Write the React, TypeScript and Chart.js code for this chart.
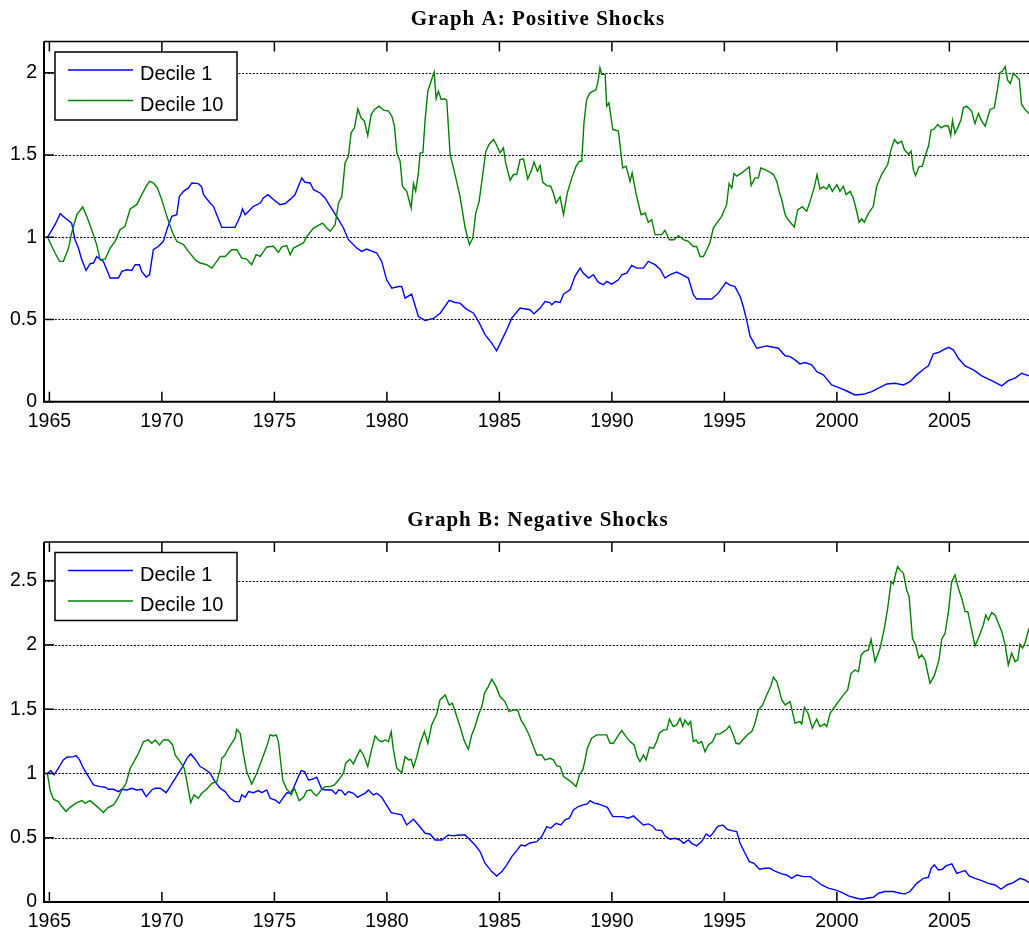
import React, { useEffect, useRef } from 'react';
import { Chart, registerables } from 'chart.js';

Chart.register(...registerables);

// ---------- data ----------
const seriesLabels = ['Decile 1', 'Decile 10'];
const seriesColors = ['#0000ff', '#008000'];
const titleA = 'Graph A: Positive Shocks';
const titleB = 'Graph B: Negative Shocks';
const xTickYears = [1965, 1970, 1975, 1980, 1985, 1990, 1995, 2000, 2005];
const yTicksA = [0, 0.5, 1, 1.5, 2];
const yTicksB = [0, 0.5, 1, 1.5, 2, 2.5];
const yTickLabelsA = ['0', '0.5', '1', '1.5', '2'];
const yTickLabelsB = ['0', '0.5', '1', '1.5', '2', '2.5'];

// Graph A, Decile 1
const aD1Years = [1964.92,1965.25,1965.48,1965.7,1965.99,1966.14,1966.29,1966.44,1966.63,1966.81,1966.96,1967.1,1967.25,1967.4,1967.55,1967.7,1968.07,1968.22,1968.44,1968.66,1968.81,1969.0,1969.1,1969.3,1969.45,1969.62,1969.85,1970.07,1970.22,1970.44,1970.66,1970.78,1970.96,1971.18,1971.33,1971.62,1971.77,1971.85,1972.14,1972.29,1972.66,1973.25,1973.48,1973.58,1973.7,1974.07,1974.37,1974.51,1974.71,1974.96,1975.25,1975.48,1975.7,1975.92,1976.22,1976.36,1976.59,1976.74,1977.03,1977.25,1977.48,1977.62,1977.85,1978.07,1978.29,1978.66,1978.88,1979.1,1979.55,1979.77,1979.99,1980.22,1980.51,1980.66,1980.81,1981.1,1981.4,1981.7,1982.07,1982.37,1982.77,1983.03,1983.25,1983.48,1983.85,1984.07,1984.37,1984.66,1984.88,1985.11,1985.33,1985.55,1985.92,1986.36,1986.54,1986.81,1987.03,1987.25,1987.33,1987.48,1987.7,1987.85,1988.14,1988.36,1988.59,1988.73,1988.96,1989.18,1989.4,1989.62,1989.77,1989.99,1990.29,1990.44,1990.66,1990.88,1991.1,1991.4,1991.62,1991.92,1992.14,1992.36,1992.59,1992.88,1993.11,1993.4,1993.62,1993.77,1994.07,1994.44,1994.73,1995.07,1995.25,1995.47,1995.7,1995.84,1995.99,1996.14,1996.44,1996.88,1997.18,1997.4,1997.7,1997.92,1998.14,1998.36,1998.59,1998.88,1999.11,1999.4,1999.77,2000.14,2000.44,2000.81,2001.18,2001.55,2001.85,2002.22,2002.59,2002.96,2003.25,2003.55,2003.85,2004.07,2004.29,2004.51,2004.73,2004.96,2005.18,2005.4,2005.7,2006.07,2006.44,2006.88,2007.33,2007.62,2007.92,2008.22,2008.54];
const aD1Values = [1.0,1.076,1.143,1.117,1.086,0.985,0.934,0.863,0.798,0.839,0.843,0.883,0.867,0.853,0.802,0.752,0.752,0.792,0.802,0.798,0.833,0.833,0.792,0.758,0.772,0.924,0.945,0.975,1.046,1.127,1.137,1.249,1.279,1.3,1.33,1.326,1.306,1.259,1.208,1.188,1.06,1.06,1.127,1.172,1.137,1.188,1.208,1.239,1.259,1.229,1.198,1.205,1.23,1.259,1.361,1.334,1.33,1.289,1.269,1.239,1.188,1.158,1.107,1.056,0.985,0.934,0.914,0.928,0.904,0.853,0.741,0.69,0.7,0.7,0.63,0.654,0.518,0.494,0.506,0.538,0.616,0.603,0.599,0.569,0.538,0.488,0.406,0.356,0.309,0.376,0.437,0.508,0.569,0.559,0.534,0.569,0.609,0.603,0.589,0.609,0.603,0.654,0.68,0.762,0.812,0.782,0.752,0.772,0.725,0.711,0.731,0.715,0.741,0.772,0.782,0.829,0.812,0.812,0.853,0.833,0.806,0.752,0.772,0.788,0.772,0.752,0.65,0.624,0.624,0.624,0.66,0.725,0.709,0.7,0.64,0.579,0.498,0.4,0.325,0.339,0.331,0.325,0.279,0.274,0.254,0.23,0.238,0.224,0.183,0.163,0.102,0.082,0.065,0.041,0.045,0.061,0.082,0.108,0.112,0.102,0.122,0.163,0.197,0.218,0.291,0.299,0.315,0.331,0.315,0.264,0.218,0.193,0.157,0.128,0.096,0.128,0.143,0.173,0.157];

// Graph A, Decile 10
const aD10Years = [1964.92,1965.11,1965.25,1965.45,1965.62,1965.85,1965.99,1966.22,1966.48,1966.66,1966.88,1967.1,1967.25,1967.48,1967.7,1967.92,1968.14,1968.36,1968.59,1968.88,1969.11,1969.3,1969.45,1969.62,1969.8,1969.99,1970.22,1970.48,1970.66,1970.96,1971.18,1971.48,1971.7,1971.99,1972.22,1972.44,1972.59,1972.81,1973.1,1973.33,1973.55,1973.77,1973.99,1974.19,1974.37,1974.66,1974.96,1975.18,1975.33,1975.55,1975.7,1975.85,1976.14,1976.29,1976.44,1976.74,1977.14,1977.33,1977.48,1977.7,1977.85,1978.0,1978.14,1978.29,1978.41,1978.56,1978.71,1978.85,1979.0,1979.15,1979.3,1979.45,1979.65,1979.85,1980.07,1980.22,1980.34,1980.44,1980.59,1980.69,1980.88,1981.08,1981.18,1981.28,1981.4,1981.48,1981.6,1981.7,1981.82,1981.99,1982.1,1982.19,1982.29,1982.41,1982.56,1982.66,1982.81,1983.03,1983.25,1983.48,1983.67,1983.82,1983.95,1984.1,1984.26,1984.4,1984.54,1984.74,1984.84,1985.03,1985.18,1985.28,1985.48,1985.62,1985.77,1985.92,1986.07,1986.26,1986.44,1986.54,1986.69,1986.81,1986.93,1987.11,1987.28,1987.4,1987.52,1987.7,1987.85,1988.02,1988.22,1988.41,1988.56,1988.66,1988.76,1988.88,1989.03,1989.3,1989.4,1989.47,1989.55,1989.7,1989.77,1989.87,1990.04,1990.29,1990.48,1990.63,1990.81,1990.9,1991.1,1991.3,1991.48,1991.62,1991.77,1991.92,1992.22,1992.36,1992.56,1992.76,1992.96,1993.18,1993.4,1993.62,1993.77,1993.92,1994.07,1994.22,1994.36,1994.51,1994.66,1994.88,1995.1,1995.21,1995.33,1995.43,1995.55,1995.77,1995.99,1996.1,1996.19,1996.36,1996.51,1996.62,1996.81,1996.96,1997.18,1997.33,1997.45,1997.55,1997.7,1997.85,1998.11,1998.26,1998.47,1998.66,1998.81,1999.0,1999.12,1999.25,1999.4,1999.55,1999.65,1999.8,2000.0,2000.14,2000.29,2000.41,2000.59,2000.73,2000.88,2000.99,2001.1,2001.22,2001.4,2001.62,2001.77,2001.99,2002.26,2002.41,2002.56,2002.7,2002.88,2003.0,2003.18,2003.3,2003.4,2003.5,2003.65,2003.8,2003.92,2004.07,2004.19,2004.33,2004.48,2004.63,2004.81,2004.96,2005.06,2005.14,2005.25,2005.37,2005.52,2005.62,2005.77,2005.99,2006.14,2006.29,2006.44,2006.59,2006.81,2007.0,2007.15,2007.25,2007.36,2007.48,2007.59,2007.71,2007.85,2008.0,2008.11,2008.21,2008.36,2008.54];
const aD10Values = [1.0,0.944,0.904,0.853,0.853,0.934,1.026,1.137,1.184,1.127,1.046,0.955,0.863,0.867,0.934,0.975,1.046,1.066,1.172,1.198,1.259,1.31,1.34,1.33,1.3,1.229,1.127,1.026,0.975,0.955,0.914,0.863,0.843,0.833,0.812,0.853,0.883,0.883,0.924,0.924,0.873,0.867,0.833,0.894,0.883,0.941,0.945,0.908,0.941,0.949,0.894,0.934,0.955,0.965,1.005,1.056,1.086,1.056,1.036,1.076,1.208,1.249,1.452,1.492,1.635,1.665,1.781,1.726,1.706,1.618,1.746,1.777,1.797,1.773,1.767,1.736,1.675,1.513,1.462,1.31,1.279,1.178,1.326,1.279,1.391,1.513,1.513,1.716,1.888,1.959,2.004,1.842,1.888,1.838,1.842,1.834,1.503,1.381,1.249,1.056,0.955,0.995,1.147,1.218,1.381,1.523,1.564,1.594,1.57,1.513,1.543,1.452,1.346,1.381,1.381,1.472,1.476,1.354,1.411,1.458,1.401,1.436,1.334,1.314,1.31,1.269,1.208,1.245,1.137,1.269,1.361,1.432,1.462,1.462,1.695,1.838,1.878,1.898,1.959,2.03,1.99,1.99,1.797,1.817,1.655,1.645,1.421,1.432,1.34,1.391,1.249,1.137,1.147,1.091,1.107,1.016,1.016,1.042,0.985,0.985,1.01,0.985,0.975,0.944,0.944,0.883,0.883,0.924,0.968,1.056,1.086,1.127,1.198,1.326,1.299,1.387,1.371,1.391,1.415,1.428,1.314,1.361,1.361,1.421,1.411,1.401,1.381,1.34,1.27,1.229,1.137,1.103,1.062,1.168,1.184,1.158,1.218,1.306,1.381,1.293,1.306,1.293,1.32,1.279,1.32,1.279,1.31,1.259,1.279,1.239,1.158,1.091,1.111,1.091,1.143,1.188,1.31,1.381,1.442,1.533,1.594,1.57,1.584,1.533,1.503,1.523,1.411,1.375,1.428,1.432,1.492,1.553,1.651,1.659,1.685,1.665,1.679,1.675,1.618,1.71,1.63,1.665,1.716,1.787,1.797,1.767,1.691,1.753,1.706,1.675,1.777,1.787,1.909,2.0,2.01,2.037,1.955,1.935,1.996,1.976,1.959,1.807,1.777,1.752];

// Graph B, Decile 1
const bD1Years = [1964.91,1965.06,1965.21,1965.4,1965.62,1965.77,1966.07,1966.19,1966.34,1966.51,1966.74,1966.96,1967.25,1967.48,1967.62,1967.85,1968.07,1968.22,1968.44,1968.66,1968.88,1969.11,1969.3,1969.55,1969.7,1969.92,1970.19,1970.44,1970.66,1970.88,1971.11,1971.28,1971.48,1971.7,1971.92,1972.14,1972.36,1972.59,1972.81,1973.03,1973.25,1973.45,1973.55,1973.7,1973.85,1974.07,1974.29,1974.44,1974.66,1974.81,1975.03,1975.22,1975.4,1975.55,1975.7,1975.85,1976.0,1976.19,1976.34,1976.51,1976.69,1976.88,1977.11,1977.33,1977.55,1977.73,1977.85,1977.99,1978.14,1978.29,1978.51,1978.7,1978.88,1979.03,1979.18,1979.4,1979.55,1979.77,1979.92,1980.19,1980.44,1980.66,1980.88,1981.18,1981.4,1981.7,1981.92,1982.14,1982.44,1982.73,1982.96,1983.18,1983.48,1983.7,1983.92,1984.14,1984.36,1984.66,1984.88,1985.11,1985.33,1985.55,1985.77,1985.96,1986.14,1986.36,1986.66,1986.88,1987.11,1987.28,1987.52,1987.73,1987.92,1988.11,1988.29,1988.51,1988.73,1988.91,1989.03,1989.21,1989.4,1989.62,1989.8,1990.04,1990.25,1990.48,1990.73,1990.96,1991.18,1991.4,1991.62,1991.81,1991.96,1992.22,1992.36,1992.59,1992.81,1993.03,1993.18,1993.4,1993.55,1993.77,1993.99,1994.19,1994.36,1994.51,1994.69,1994.93,1995.13,1995.33,1995.55,1995.7,1995.92,1996.11,1996.32,1996.56,1996.81,1997.03,1997.25,1997.55,1997.77,1997.99,1998.22,1998.51,1998.81,1999.03,1999.33,1999.62,1999.92,2000.22,2000.51,2000.88,2001.1,2001.33,2001.62,2001.85,2002.14,2002.51,2002.81,2003.03,2003.25,2003.55,2003.85,2004.07,2004.19,2004.33,2004.51,2004.69,2004.84,2005.11,2005.33,2005.55,2005.7,2005.88,2006.14,2006.44,2006.73,2007.03,2007.3,2007.55,2007.84,2008.14,2008.36,2008.54];
const bD1Values = [1.0,1.023,0.989,1.041,1.106,1.126,1.131,1.139,1.106,1.041,0.976,0.911,0.898,0.893,0.877,0.877,0.859,0.877,0.872,0.885,0.872,0.877,0.82,0.872,0.885,0.885,0.851,0.919,0.981,1.041,1.118,1.152,1.111,1.054,1.033,1.002,0.937,0.885,0.859,0.807,0.781,0.781,0.833,0.815,0.859,0.851,0.867,0.851,0.872,0.807,0.794,0.768,0.815,0.85,0.846,0.885,0.95,1.023,1.015,0.95,0.955,0.971,0.877,0.872,0.872,0.841,0.872,0.867,0.833,0.859,0.846,0.815,0.833,0.846,0.872,0.833,0.846,0.815,0.774,0.696,0.686,0.678,0.6,0.644,0.6,0.535,0.53,0.483,0.483,0.522,0.515,0.522,0.522,0.483,0.444,0.393,0.302,0.237,0.203,0.237,0.289,0.354,0.4,0.444,0.437,0.46,0.47,0.509,0.587,0.574,0.613,0.6,0.639,0.652,0.717,0.743,0.756,0.763,0.789,0.769,0.763,0.748,0.737,0.665,0.665,0.665,0.652,0.67,0.634,0.6,0.608,0.592,0.561,0.556,0.514,0.489,0.496,0.483,0.457,0.483,0.457,0.437,0.47,0.53,0.509,0.54,0.587,0.6,0.566,0.556,0.548,0.457,0.38,0.315,0.302,0.255,0.263,0.263,0.24,0.219,0.211,0.185,0.211,0.198,0.198,0.172,0.133,0.108,0.095,0.076,0.048,0.03,0.022,0.03,0.038,0.069,0.082,0.082,0.069,0.064,0.082,0.146,0.185,0.193,0.263,0.289,0.25,0.255,0.281,0.297,0.224,0.237,0.245,0.203,0.185,0.167,0.146,0.133,0.1,0.133,0.151,0.185,0.172,0.151];

// Graph B, Decile 10
const bD10Years = [1964.91,1965.03,1965.18,1965.4,1965.55,1965.74,1965.92,1966.07,1966.22,1966.44,1966.59,1966.81,1967.03,1967.25,1967.4,1967.62,1967.85,1968.02,1968.22,1968.41,1968.59,1968.76,1968.96,1969.18,1969.4,1969.55,1969.7,1969.89,1970.07,1970.29,1970.48,1970.59,1970.81,1970.99,1971.11,1971.28,1971.43,1971.62,1971.77,1971.99,1972.22,1972.44,1972.59,1972.66,1972.81,1972.96,1973.1,1973.25,1973.33,1973.48,1973.62,1973.77,1973.99,1974.22,1974.44,1974.66,1974.81,1974.96,1975.08,1975.18,1975.37,1975.55,1975.7,1975.74,1975.89,1976.1,1976.29,1976.44,1976.63,1976.74,1976.88,1977.08,1977.25,1977.48,1977.67,1977.88,1978.07,1978.17,1978.36,1978.51,1978.66,1978.81,1978.96,1979.15,1979.3,1979.48,1979.62,1979.77,1979.92,1980.07,1980.19,1980.29,1980.44,1980.66,1980.81,1980.96,1981.08,1981.18,1981.33,1981.48,1981.67,1981.82,1981.99,1982.22,1982.36,1982.59,1982.77,1982.91,1983.06,1983.25,1983.45,1983.62,1983.77,1983.92,1984.07,1984.22,1984.34,1984.51,1984.66,1984.84,1985.03,1985.25,1985.43,1985.62,1985.81,1985.96,1986.14,1986.32,1986.51,1986.66,1986.88,1987.03,1987.25,1987.4,1987.55,1987.7,1987.85,1988.07,1988.26,1988.41,1988.56,1988.71,1988.81,1988.91,1989.1,1989.33,1989.55,1989.77,1989.92,1990.07,1990.25,1990.44,1990.63,1990.81,1990.99,1991.13,1991.25,1991.4,1991.52,1991.67,1991.85,1991.99,1992.11,1992.29,1992.44,1992.56,1992.73,1992.88,1993.03,1993.15,1993.25,1993.4,1993.5,1993.62,1993.74,1993.84,1993.99,1994.14,1994.29,1994.48,1994.63,1994.81,1994.96,1995.11,1995.23,1995.4,1995.52,1995.67,1995.84,1996.07,1996.22,1996.36,1996.51,1996.7,1996.88,1997.06,1997.18,1997.33,1997.45,1997.55,1997.7,1997.92,1998.14,1998.36,1998.44,1998.56,1998.73,1998.91,1999.1,1999.25,1999.45,1999.55,1999.7,1999.89,2000.07,2000.29,2000.48,2000.63,2000.81,2000.96,2001.08,2001.22,2001.4,2001.52,2001.7,2001.92,2002.11,2002.26,2002.41,2002.51,2002.62,2002.7,2002.81,2002.96,2003.1,2003.21,2003.36,2003.5,2003.65,2003.77,2003.92,2004.14,2004.33,2004.54,2004.66,2004.81,2004.96,2005.1,2005.25,2005.4,2005.55,2005.7,2005.82,2005.96,2006.14,2006.32,2006.51,2006.62,2006.73,2006.88,2007.03,2007.15,2007.33,2007.48,2007.62,2007.77,2007.92,2008.04,2008.14,2008.25,2008.36,2008.54];
const bD10Values = [1.0,0.872,0.8,0.781,0.743,0.704,0.737,0.756,0.774,0.789,0.769,0.789,0.756,0.722,0.696,0.737,0.756,0.8,0.872,0.924,1.041,1.093,1.157,1.248,1.261,1.235,1.261,1.222,1.261,1.261,1.222,1.144,1.093,1.041,0.937,0.774,0.833,0.807,0.846,0.877,0.924,0.937,1.028,1.118,1.144,1.196,1.235,1.274,1.344,1.313,1.157,1.015,0.919,1.002,1.106,1.209,1.3,1.292,1.3,1.248,0.95,0.877,0.85,0.833,0.885,0.789,0.815,0.867,0.872,0.846,0.826,0.872,0.898,0.898,0.911,0.955,1.002,1.08,1.111,1.074,1.131,1.183,1.144,1.054,1.17,1.292,1.261,1.248,1.261,1.248,1.326,1.183,1.041,1.007,1.131,1.106,1.111,1.048,1.131,1.235,1.326,1.235,1.378,1.463,1.572,1.611,1.533,1.546,1.468,1.365,1.248,1.188,1.3,1.365,1.455,1.52,1.624,1.676,1.733,1.681,1.598,1.559,1.481,1.494,1.494,1.416,1.365,1.3,1.209,1.144,1.144,1.106,1.118,1.106,1.059,1.054,0.976,0.95,0.924,0.898,0.989,1.028,1.106,1.196,1.274,1.3,1.3,1.3,1.235,1.235,1.287,1.334,1.287,1.248,1.222,1.131,1.093,1.144,1.106,1.204,1.196,1.248,1.313,1.339,1.339,1.422,1.365,1.378,1.429,1.365,1.416,1.378,1.404,1.248,1.261,1.235,1.248,1.17,1.222,1.248,1.308,1.308,1.326,1.344,1.37,1.3,1.235,1.23,1.266,1.308,1.326,1.391,1.494,1.533,1.611,1.676,1.748,1.715,1.64,1.572,1.533,1.559,1.391,1.404,1.385,1.515,1.463,1.352,1.422,1.365,1.385,1.365,1.468,1.515,1.559,1.611,1.65,1.779,1.805,1.792,1.922,1.948,1.961,2.044,1.87,1.974,2.129,2.285,2.492,2.474,2.557,2.609,2.583,2.557,2.427,2.376,2.052,2.0,1.896,1.922,1.883,1.702,1.759,1.883,2.044,2.09,2.259,2.492,2.544,2.44,2.363,2.259,2.259,2.142,1.992,2.065,2.155,2.233,2.194,2.251,2.233,2.181,2.103,2.0,1.844,1.935,1.87,1.883,2.007,1.974,2.013,2.129];

// ---------- layout ----------
const W = 1029;
const X_MIN = 1964.76;
const X_MAX = 2008.54;
const Y_AXIS_W = 44;
const X_AXIS_H = 40;
const TICK_FONT = { family: 'Liberation Sans', size: 19.5 };

const toXY = (xs: number[], ys: number[]) => xs.map((x, i) => ({ x, y: ys[i] }));

type PanelProps = {
  top: number;
  height: number;
  plotTop: number;
  plotBottom: number;
  titleBaseline: number;
  title: string;
  yMax: number;
  yTicks: number[];
  yTickLabels: string[];
  d1Years: number[];
  d1Values: number[];
  d10Years: number[];
  d10Values: number[];
};

const matlabPlugin = {
  id: 'matlabLook',
  beforeDatasetsDraw(chart: any, _args: any, opts: any) {
    const { ctx, chartArea } = chart;
    const y = chart.scales.y;
    ctx.save();
    ctx.strokeStyle = '#000';
    ctx.lineWidth = 1.2;
    ctx.setLineDash([2, 1.6]);
    (opts.yTicks as number[]).forEach((v) => {
      if (v === 0) return;
      const py = Math.round(y.getPixelForValue(v)) + 0.5;
      ctx.beginPath();
      ctx.moveTo(chartArea.left, py);
      ctx.lineTo(chartArea.right, py);
      ctx.stroke();
    });
    ctx.restore();
  },
  afterDatasetsDraw(chart: any, _args: any, opts: any) {
    const { ctx, chartArea } = chart;
    const x = chart.scales.x;
    const y = chart.scales.y;
    const { left, right, top, bottom } = chartArea;
    ctx.save();
    ctx.setLineDash([]);
    ctx.strokeStyle = '#000';
    // axes
    ctx.lineWidth = 2;
    ctx.beginPath();
    ctx.moveTo(left, top);
    ctx.lineTo(left, bottom);
    ctx.lineTo(right, bottom);
    ctx.stroke();
    ctx.lineWidth = 1.5;
    ctx.beginPath();
    ctx.moveTo(left, top);
    ctx.lineTo(right, top);
    ctx.stroke();
    // inward x ticks, bottom and top
    ctx.lineWidth = 1.5;
    (opts.xTicks as number[]).forEach((v) => {
      const px = x.getPixelForValue(v);
      ctx.beginPath();
      ctx.moveTo(px, bottom);
      ctx.lineTo(px, bottom - 10);
      ctx.moveTo(px, top);
      ctx.lineTo(px, top + 10);
      ctx.stroke();
    });
    // inward y ticks
    (opts.yTicks as number[]).forEach((v) => {
      const py = y.getPixelForValue(v);
      ctx.beginPath();
      ctx.moveTo(left, py);
      ctx.lineTo(left + 10, py);
      ctx.stroke();
    });
    // legend
    const bx = 55, by = top + 10.5, bw = 182, bh = 68;
    ctx.fillStyle = '#fff';
    ctx.fillRect(bx, by, bw, bh);
    ctx.lineWidth = 1.5;
    ctx.strokeRect(bx, by, bw, bh);
    const rows = [by + 18, by + 48.5];
    chart.data.datasets.forEach((ds: any, i: number) => {
      const ry = rows[i];
      ctx.strokeStyle = ds.borderColor;
      ctx.lineWidth = 1.3;
      ctx.beginPath();
      ctx.moveTo(68, ry);
      ctx.lineTo(133, ry);
      ctx.stroke();
      ctx.fillStyle = '#000';
      ctx.font = '20px "Liberation Sans"';
      ctx.textAlign = 'left';
      ctx.textBaseline = 'alphabetic';
      ctx.fillText(ds.label, 140, ry + 10);
    });
    // title
    ctx.fillStyle = '#000';
    ctx.font = 'bold 21px "Liberation Serif"';
    (ctx as any).letterSpacing = '1px';
    ctx.textAlign = 'center';
    ctx.textBaseline = 'alphabetic';
    ctx.fillText(opts.title, 538, opts.titleBaseline);
    ctx.restore();
  },
};

function Panel(p: PanelProps) {
  const ref = useRef<HTMLCanvasElement>(null);
  useEffect(() => {
    const canvas = ref.current!;
    const chart = new Chart(canvas, {
      type: 'line',
      data: {
        datasets: [
          {
            label: seriesLabels[0],
            data: toXY(p.d1Years, p.d1Values),
            borderColor: seriesColors[0],
            borderWidth: 1.4,
            pointRadius: 0,
            tension: 0,
            order: 1,
          },
          {
            label: seriesLabels[1],
            data: toXY(p.d10Years, p.d10Values),
            borderColor: seriesColors[1],
            borderWidth: 1.4,
            pointRadius: 0,
            tension: 0,
            order: 0,
          },
        ],
      },
      options: {
        animation: false,
        responsive: false,
        maintainAspectRatio: false,
        layout: {
          padding: { top: p.plotTop, left: 0, right: 0, bottom: p.height - p.plotBottom - X_AXIS_H },
        },
        plugins: {
          legend: { display: false },
          title: { display: false },
          tooltip: { enabled: false },
          matlabLook: { yTicks: p.yTicks, xTicks: xTickYears, title: p.title, titleBaseline: p.titleBaseline },
        } as any,
        scales: {
          x: {
            type: 'linear',
            min: X_MIN,
            max: X_MAX,
            afterBuildTicks: (s: any) => {
              s.ticks = xTickYears.map((v) => ({ value: v }));
            },
            afterFit: (s: any) => {
              s.height = X_AXIS_H;
            },
            grid: { display: false, drawTicks: false },
            border: { display: false },
            ticks: {
              font: TICK_FONT,
              color: '#000',
              padding: 8,
              maxRotation: 0,
              autoSkip: false,
              callback: (v: any) => String(v),
            },
          },
          y: {
            type: 'linear',
            min: 0,
            max: p.yMax,
            afterBuildTicks: (s: any) => {
              s.ticks = p.yTicks.map((v) => ({ value: v }));
            },
            afterFit: (s: any) => {
              s.width = Y_AXIS_W;
            },
            grid: { display: false, drawTicks: false },
            border: { display: false },
            ticks: {
              font: TICK_FONT,
              color: '#000',
              padding: 7,
              autoSkip: false,
              callback: (v: any) => {
                const i = p.yTicks.indexOf(Number(v));
                return i >= 0 ? p.yTickLabels[i] : '';
              },
            },
          },
        },
      },
      plugins: [matlabPlugin],
    });
    return () => chart.destroy();
  }, []);
  return (
    <canvas
      ref={ref}
      width={W}
      height={p.height}
      style={{ position: 'absolute', left: 0, top: p.top, width: W, height: p.height, display: 'block' }}
    />
  );
}

export default function App() {
  return (
    <div style={{ position: 'fixed', left: 0, top: 0, width: W, height: 933, overflow: 'hidden', background: '#fff' }}>
      <Panel
        top={0}
        height={470}
        plotTop={41.5}
        plotBottom={401.7}
        titleBaseline={25}
        title={titleA}
        yMax={2.19}
        yTicks={yTicksA}
        yTickLabels={yTickLabelsA}
        d1Years={aD1Years}
        d1Values={aD1Values}
        d10Years={aD10Years}
        d10Values={aD10Values}
      />
      <Panel
        top={470}
        height={463}
        plotTop={72}
        plotBottom={432.1}
        titleBaseline={56}
        title={titleB}
        yMax={2.8}
        yTicks={yTicksB}
        yTickLabels={yTickLabelsB}
        d1Years={bD1Years}
        d1Values={bD1Values}
        d10Years={bD10Years}
        d10Values={bD10Values}
      />
    </div>
  );
}
